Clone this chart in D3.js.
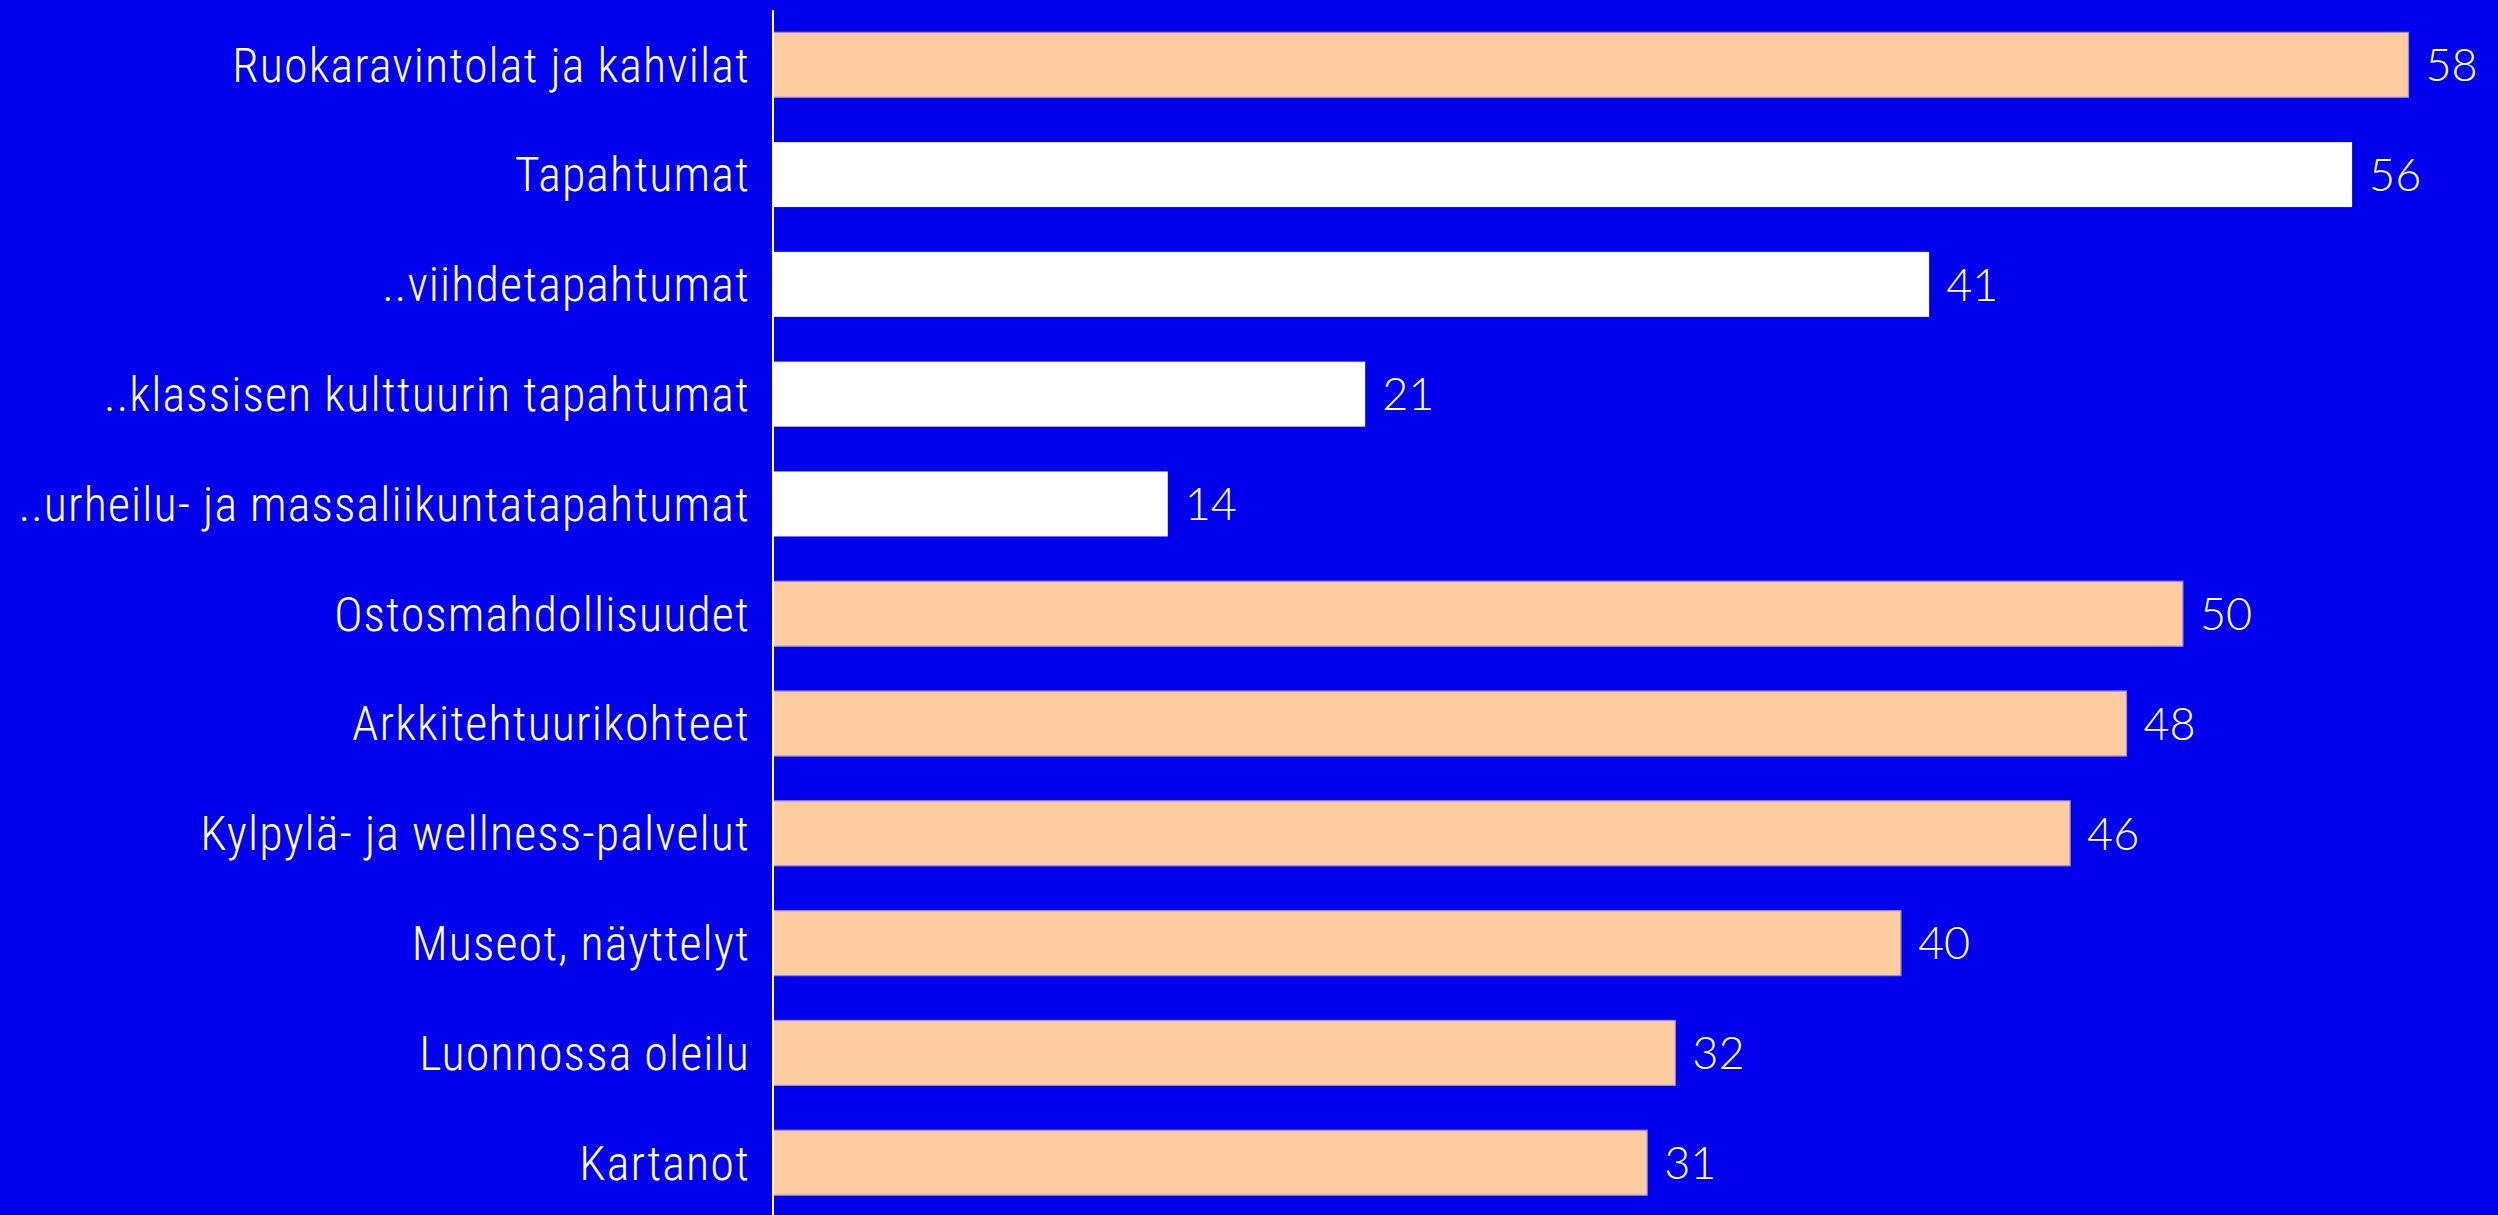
<!DOCTYPE html>
<html>
<head>
<meta charset="utf-8">
<script src="https://cdn.jsdelivr.net/npm/d3@7"></script>
<style>
  html, body { margin: 0; padding: 0; background: #0000EC; }
  svg { display: block; }
</style>
</head>
<body>
<svg id="chart" width="2498" height="1215"></svg>
<script>
const categories = [
  "Ruokaravintolat ja kahvilat",
  "Tapahtumat",
  "..viihdetapahtumat",
  "..klassisen kulttuurin tapahtumat",
  "..urheilu- ja massaliikuntatapahtumat",
  "Ostosmahdollisuudet",
  "Arkkitehtuurikohteet",
  "Kylpylä- ja wellness-palvelut",
  "Museot, näyttelyt",
  "Luonnossa oleilu",
  "Kartanot"
];
const values = [58, 56, 41, 21, 14, 50, 48, 46, 40, 32, 31];
const eventGroup = [false, true, true, true, true, false, false, false, false, false, false];

const W = 2498, H = 1215;
const svg = d3.select("#chart");
svg.append("rect").attr("width", W).attr("height", H).attr("fill", "#0000EC");

const data = categories.map((c, i) => ({ c, v: values[i], ev: eventGroup[i] }));

const x = d3.scaleLinear().domain([0, 58]).range([773, 2408.5]);
const y = d3.scaleBand().domain(categories).range([9.9, 1217.6]).paddingInner(0.408).paddingOuter(0.204);

svg.selectAll("rect.bar").data(data).join("rect")
  .attr("class", "bar")
  .attr("x", x(0))
  .attr("y", d => y(d.c))
  .attr("width", d => x(d.v) - x(0))
  .attr("height", y.bandwidth())
  .attr("fill", d => d.ev ? "#FFFFFF" : "#FFCBA1")
  .attr("stroke", d => d.ev ? "none" : "#9A8ADB")
  .attr("stroke-width", 1.2);

// category labels
svg.selectAll("text.cat").data(data).join("text")
  .attr("class", "cat")
  .attr("x", 750)
  .attr("y", d => y(d.c) + y.bandwidth() / 2)
  .attr("dy", "0.35em")
  .attr("text-anchor", "end")
  .attr("fill", "#FFFFFF")
  .style("font-family", "'Roboto Condensed', 'Liberation Sans Narrow', 'DejaVu Sans Condensed', Roboto, sans-serif")
  .style("font-weight", 300)
  .style("letter-spacing", "1.1px")
  .style("font-size", "48px")
  .text(d => d.c);

// value labels
svg.selectAll("text.val").data(data).join("text")
  .attr("class", "val")
  .attr("x", d => x(d.v) + 17)
  .attr("y", d => y(d.c) + y.bandwidth() / 2)
  .attr("dy", "0.36em")
  .attr("fill", "#FFFFFF")
  .style("font-family", "Lato, Roboto, sans-serif")
  .style("font-weight", 300)
  .style("font-size", "45px")
  .text(d => d.v);

// axis line
svg.append("line")
  .attr("x1", x(0)).attr("x2", x(0))
  .attr("y1", 10).attr("y2", H)
  .attr("stroke", "#FFFFFF").attr("stroke-width", 2);
</script>
</body>
</html>
